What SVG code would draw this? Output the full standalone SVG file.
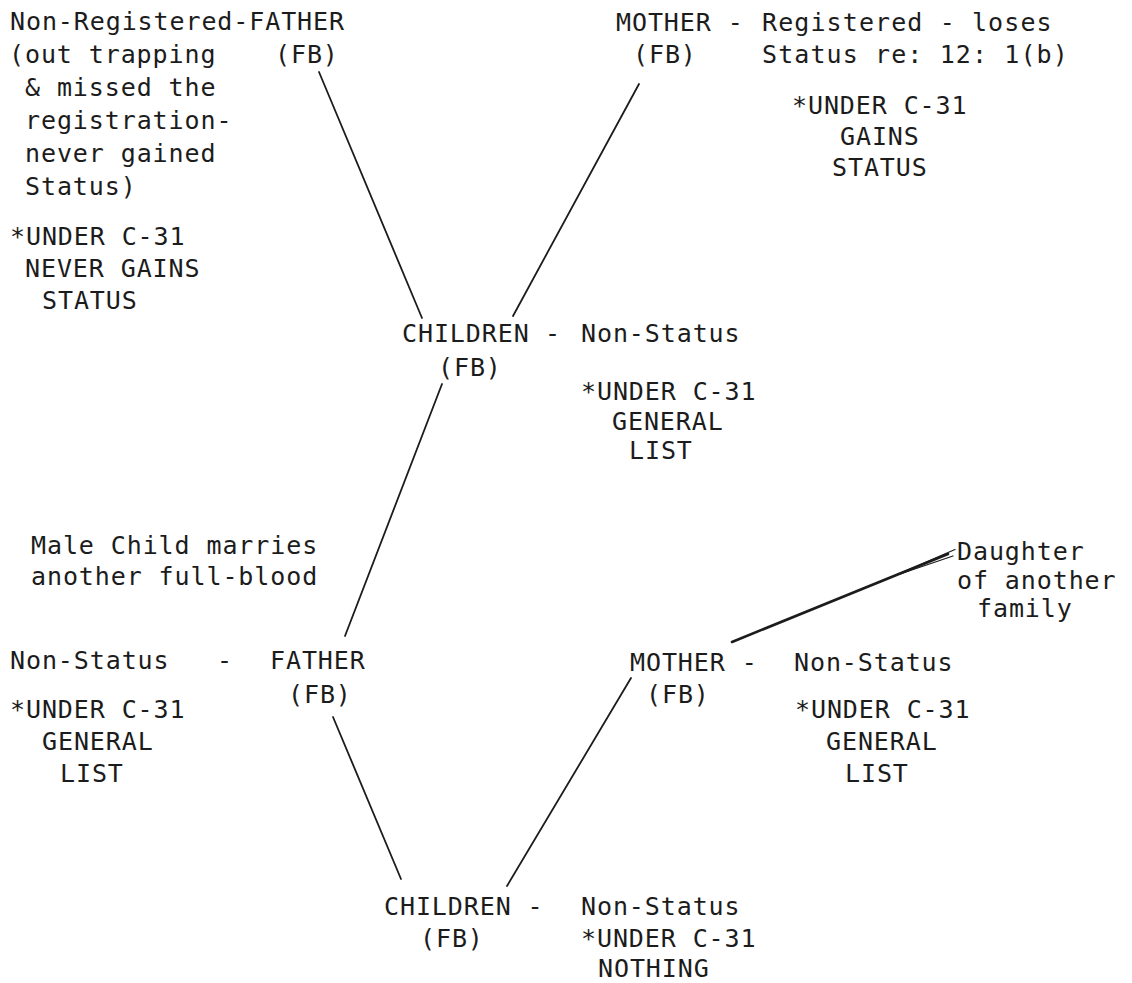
<svg xmlns="http://www.w3.org/2000/svg" width="1132" height="983" viewBox="0 0 1132 983">
<style>
text{font-family:"DejaVu Sans Mono","Liberation Mono",monospace;font-size:25px;letter-spacing:0.9px;fill:#1c1c1c;white-space:pre}
.w{letter-spacing:1.1px}
.c{stroke:#1c1c1c;stroke-width:1.8;fill:none;stroke-linecap:round}
.d{stroke:#1c1c1c;stroke-width:2.6;fill:none;stroke-linecap:round}
.d2{stroke:#1c1c1c;stroke-width:1.3;fill:none;stroke-linecap:round}
</style>
<rect width="1132" height="983" fill="#ffffff"/>
<g id="connectors">
<line class="c" x1="319" y1="72" x2="422" y2="318"/>
<line class="c" x1="639" y1="84" x2="513" y2="316"/>
<line class="c" x1="442" y1="384" x2="345" y2="636"/>
<line class="c" x1="333" y1="717" x2="401" y2="879"/>
<line class="c" x1="631" y1="678" x2="507" y2="886"/>
<path class="d" d="M732 642 L948 554"/>
<path class="d2" d="M880 582 L955 549.5 M900 574 L953 556"/>
</g>
<g id="father-nonregistered">
<text x="10" y="30">Non-Registered-FATHER</text>
<text x="9" y="63">(out trapping</text>
<text x="275" y="63">(FB)</text>
<text x="25" y="96">&amp; missed the</text>
<text x="25" y="129">registration-</text>
<text x="25" y="162">never gained</text>
<text x="25" y="195">Status)</text>
<text x="10" y="245">*UNDER C-31</text>
<text x="25" y="277">NEVER GAINS</text>
<text x="42" y="309">STATUS</text>
</g>
<g id="mother-registered">
<text x="616" y="31">MOTHER -</text>
<text class="w" x="762" y="31">Registered - loses</text>
<text x="633" y="63">(FB)</text>
<text class="w" x="762" y="63">Status re: 12: 1(b)</text>
<text x="792" y="114">*UNDER C-31</text>
<text x="840" y="145">GAINS</text>
<text x="832" y="176">STATUS</text>
</g>
<g id="children-1">
<text x="402" y="342">CHILDREN</text>
<text x="438" y="376">(FB)</text>
<text x="545" y="342">-</text>
<text x="581" y="342">Non-Status</text>
<text x="581" y="400">*UNDER C-31</text>
<text x="612" y="430">GENERAL</text>
<text x="629" y="459">LIST</text>
</g>
<g id="note-marriage">
<text x="31" y="554">Male Child marries</text>
<text x="31" y="585">another full-blood</text>
</g>
<g id="father-2">
<text x="10" y="669">Non-Status</text>
<text x="217" y="669">-</text>
<text x="270" y="669">FATHER</text>
<text x="288" y="703">(FB)</text>
<text x="10" y="718">*UNDER C-31</text>
<text x="42" y="750">GENERAL</text>
<text x="60" y="782">LIST</text>
</g>
<g id="mother-2">
<text x="630" y="671">MOTHER -</text>
<text x="646" y="703">(FB)</text>
<text x="794" y="671">Non-Status</text>
<text x="795" y="718">*UNDER C-31</text>
<text x="826" y="750">GENERAL</text>
<text x="845" y="782">LIST</text>
</g>
<g id="daughter">
<text x="957" y="560">Daughter</text>
<text x="957" y="589">of another</text>
<text x="977" y="617">family</text>
</g>
<g id="children-2">
<text x="384" y="915">CHILDREN -</text>
<text x="420" y="947">(FB)</text>
<text x="581" y="915">Non-Status</text>
<text x="581" y="947">*UNDER C-31</text>
<text x="598" y="977">NOTHING</text>
</g>
</svg>
